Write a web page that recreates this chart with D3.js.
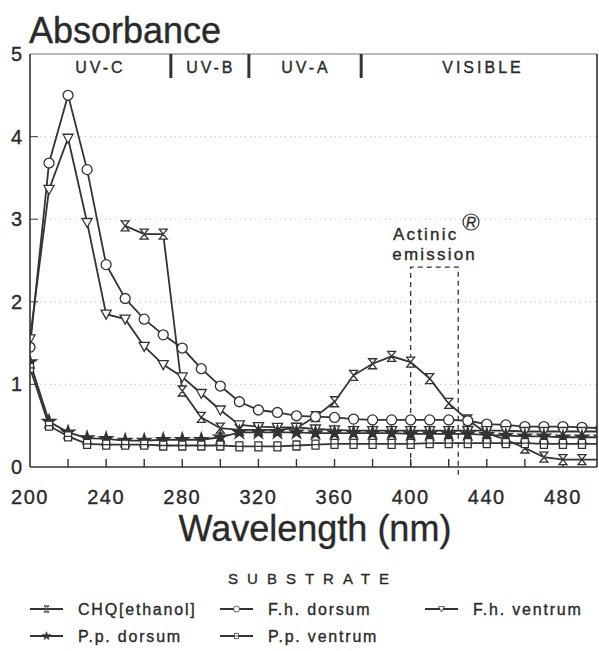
<!DOCTYPE html>
<html lang="en">
    <head>
        <meta charset="UTF-8">
        <title>Absorbance spectra</title>
        <script src="https://cdn.jsdelivr.net/npm/d3@7"></script>
    </head>

    <style>
        body { margin: 0; background: white; }
        svg text { font-family: "Liberation Sans", Arial, sans-serif; fill: #2a2a2a; stroke: #2a2a2a; stroke-width: 0.35px; }
        .grid { stroke: #b8b8b8; stroke-width: 1px; stroke-dasharray: 1,4; }
        .series { fill: none; stroke: #333; stroke-width: 1.8px; }
        .marker { fill: white; stroke: #333; stroke-width: 1.3px; }
        .marker.filled { fill: #333; }
        .frame { stroke: #333; stroke-width: 1.6px; fill: none; }
    </style>
    <body>
        <svg id="chart" width="599" height="651"></svg>

        <script>
            // wavelengths (nm) shared by the four skin samples
            const wl = [200,210,220,230,240,250,260,270,280,290,300,310,320,330,340,350,
                        360,370,380,390,400,410,420,430,440,450,460,470,480,490,500];
            const fhDorsum = [1.45,3.68,4.5,3.6,2.45,2.04,1.79,1.6,1.44,1.19,0.98,0.79,0.69,0.66,0.62,0.61,
                              0.60,0.58,0.57,0.57,0.57,0.57,0.57,0.56,0.52,0.51,0.49,0.49,0.49,0.48,0.47];
            const fhVentrum = [1.55,3.36,3.98,2.96,1.85,1.79,1.46,1.24,1.09,0.89,0.69,0.51,0.49,0.48,0.48,0.46,
                               0.45,0.44,0.44,0.44,0.44,0.44,0.44,0.44,0.44,0.44,0.43,0.43,0.43,0.43,0.43];
            const ppDorsum = [1.27,0.55,0.42,0.35,0.34,0.32,0.32,0.33,0.33,0.33,0.36,0.42,0.42,0.42,0.42,0.41,
                              0.41,0.41,0.41,0.41,0.40,0.40,0.40,0.40,0.39,0.38,0.37,0.37,0.36,0.36,0.36];
            const ppVentrum = [1.2,0.5,0.37,0.28,0.27,0.27,0.27,0.26,0.26,0.26,0.26,0.25,0.25,0.25,0.26,0.27,
                               0.28,0.28,0.28,0.28,0.28,0.29,0.29,0.29,0.29,0.29,0.29,0.28,0.28,0.28,0.28];
            // CHQ in ethanol only measured from 250 nm
            const chqWl = [250,260,270,280,290,300,310,320,330,340,350,360,370,380,390,400,
                           410,420,430,440,450,460,470,480,490,500];
            const chq = [2.92,2.82,2.82,0.92,0.6,0.47,0.45,0.45,0.45,0.47,0.61,0.79,1.11,1.25,1.34,1.27,
                         1.07,0.77,0.57,0.41,0.33,0.23,0.12,0.09,0.09,0.09];

            const xTicks = [200,240,280,320,360,400,440,480];
            const xMinor = [220,260,300,340,380,420,460];
            const yTicks = [0,1,2,3,4,5];
            const bands = [{name: "UV-C", mid: 237}, {name: "UV-B", mid: 295},
                           {name: "UV-A", mid: 345}, {name: "VISIBLE", mid: 438}];
            const bandEdges = [274, 315, 374];
            const actinic = {from: 400, to: 425, top: 2.42};

            const svg = d3.select("#chart");

            const x = d3.scaleLinear().domain([200, 500]).range([30, 601]);
            const y = d3.scaleLinear().domain([0, 5]).range([467, 54]);
            const right = 597;

            // markers
            const markers = {
                chq: { d: "M-4,-5H4L-4,5H4Z M-4.5,-5H4.5 M-4.5,5H4.5", filled: false },
                circle: { d: d3.symbol(d3.symbolCircle, 78)(), filled: false },
                tri: { d: "M-5,-4H5L0,5Z", filled: false },
                star: { d: d3.symbol(d3.symbolStar, 55)(), filled: true },
                box: { d: "M-3.5,-4.5H3.5V4.5H-3.5Z M-3.5,0H3.5", filled: false }
            };

            const series = [
                {label: "CHQ[ethanol]", xs: chqWl, ys: chq, m: "chq"},
                {label: "F.h. dorsum", xs: wl, ys: fhDorsum, m: "circle"},
                {label: "F.h. ventrum", xs: wl, ys: fhVentrum, m: "tri"},
                {label: "P.p. dorsum", xs: wl, ys: ppDorsum, m: "star"},
                {label: "P.p. ventrum", xs: wl, ys: ppVentrum, m: "box"}
            ];

            // grid
            svg.append("g").selectAll("line").data(yTicks.filter(d => d > 0 && d < 5))
                .join("line")
                .attr("class", "grid")
                .attr("x1", x(200)).attr("x2", right)
                .attr("y1", d => y(d)).attr("y2", d => y(d));

            // y small ticks inside
            svg.append("g").selectAll("line").data(yTicks.filter(d => d > 0 && d < 5))
                .join("line")
                .attr("stroke", "#555").attr("stroke-width", 1.2)
                .attr("x1", x(200)).attr("x2", x(200) + 8)
                .attr("y1", d => y(d)).attr("y2", d => y(d));

            // x ticks pointing up
            svg.append("g").selectAll("line").data(xTicks.concat(xMinor).filter(d => d > 200))
                .join("line")
                .attr("stroke", "#333").attr("stroke-width", 1.4)
                .attr("x1", d => x(d)).attr("x2", d => x(d))
                .attr("y1", y(0)).attr("y2", y(0) - 8);

            // actinic emission box
            svg.append("path")
                .attr("d", `M${x(actinic.from)},${y(0)}V${y(actinic.top)}H${x(actinic.to)}V${y(0) + 8}`)
                .attr("fill", "none").attr("stroke", "#333").attr("stroke-width", 1.3)
                .attr("stroke-dasharray", "5,4");

            svg.append("text").attr("x", x(actinic.from) + 15).attr("y", 240)
                .attr("text-anchor", "middle").attr("font-size", 17).attr("letter-spacing", 2.2)
                .text("Actinic");
            svg.append("text").attr("x", x(actinic.from) + 24).attr("y", 260)
                .attr("text-anchor", "middle").attr("font-size", 17).attr("letter-spacing", 2.2)
                .text("emission");
            svg.append("circle").attr("cx", 471).attr("cy", 222).attr("r", 8)
                .attr("fill", "none").attr("stroke", "#333").attr("stroke-width", 1.2);
            svg.append("text").attr("x", 471).attr("y", 227).attr("text-anchor", "middle")
                .attr("font-size", 14).attr("font-style", "italic").text("R");

            // lines + markers, clipped to the frame
            svg.append("clipPath").attr("id", "plot-clip").append("rect")
                .attr("x", x(200)).attr("y", y(5) - 10).attr("width", right - x(200)).attr("height", y(0) - y(5) + 10);

            const plot = svg.append("g").attr("clip-path", "url(#plot-clip)");
            const line = d3.line().x(d => x(d[0])).y(d => y(d[1]));

            series.forEach(s => {
                const pts = s.xs.map((v, i) => [v, s.ys[i]]);
                plot.append("path").datum(pts).attr("class", "series").attr("d", line);
            });
            series.forEach(s => {
                const pts = s.xs.map((v, i) => [v, s.ys[i]]);
                plot.selectAll(null).data(pts).join("path")
                    .attr("class", markers[s.m].filled ? "marker filled" : "marker")
                    .attr("d", markers[s.m].d)
                    .attr("transform", d => `translate(${x(d[0])},${y(d[1])})`);
            });

            // frame
            svg.append("line").attr("x1", x(200)).attr("x2", right).attr("y1", y(5)).attr("y2", y(5))
                .attr("stroke", "#777").attr("stroke-width", 1.2);
            svg.append("line").attr("class", "frame").attr("x1", right).attr("x2", right).attr("y1", y(5)).attr("y2", y(0));
            svg.append("line").attr("class", "frame").attr("x1", x(200)).attr("x2", x(200)).attr("y1", y(5)).attr("y2", y(0));
            svg.append("line").attr("class", "frame").attr("x1", x(200)).attr("x2", right).attr("y1", y(0)).attr("y2", y(0));

            // spectral bands
            svg.append("g").selectAll("line").data(bandEdges).join("line")
                .attr("stroke", "#333").attr("stroke-width", 3)
                .attr("x1", d => x(d)).attr("x2", d => x(d))
                .attr("y1", y(5)).attr("y2", y(5) + 24);
            svg.append("g").selectAll("text").data(bands).join("text")
                .attr("x", d => x(d.mid)).attr("y", y(5) + 19)
                .attr("text-anchor", "middle").attr("font-size", 16).attr("letter-spacing", 3)
                .text(d => d.name);

            // tick labels
            svg.append("g").selectAll("text").data(yTicks).join("text")
                .attr("x", 22).attr("y", d => y(d) + 7)
                .attr("text-anchor", "end").attr("font-size", 20)
                .text(d => d);
            svg.append("g").selectAll("text").data(xTicks).join("text")
                .attr("x", d => x(d)).attr("y", 504)
                .attr("text-anchor", "middle").attr("font-size", 20).attr("letter-spacing", 1.5)
                .text(d => d);

            // titles
            svg.append("text").attr("x", 29).attr("y", 43).attr("font-size", 36).text("Absorbance");
            svg.append("text").attr("x", 315).attr("y", 541).attr("text-anchor", "middle")
                .attr("font-size", 36).text("Wavelength (nm)");

            // legend
            svg.append("text").attr("x", 313).attr("y", 584).attr("text-anchor", "middle")
                .attr("font-size", 15).attr("letter-spacing", 9).text("SUBSTRATE");

            const legendPos = [[30, 609], [220, 609], [425, 609], [30, 636], [220, 636]];
            const leg = svg.append("g").selectAll("g").data(series).join("g")
                .attr("transform", (d, i) => `translate(${legendPos[i][0]},${legendPos[i][1]})`);
            leg.append("line").attr("x1", 0).attr("x2", 33).attr("stroke", "#333").attr("stroke-width", 1.8);
            leg.append("path")
                .attr("class", d => markers[d.m].filled ? "marker filled" : "marker")
                .attr("d", d => markers[d.m].d)
                .attr("transform", "translate(16.5,0) scale(0.6)");
            leg.append("text").attr("x", 48).attr("y", 6)
                .attr("font-size", 16).attr("letter-spacing", 1.8)
                .text(d => d.label);
        </script>
    </body>
</html>
